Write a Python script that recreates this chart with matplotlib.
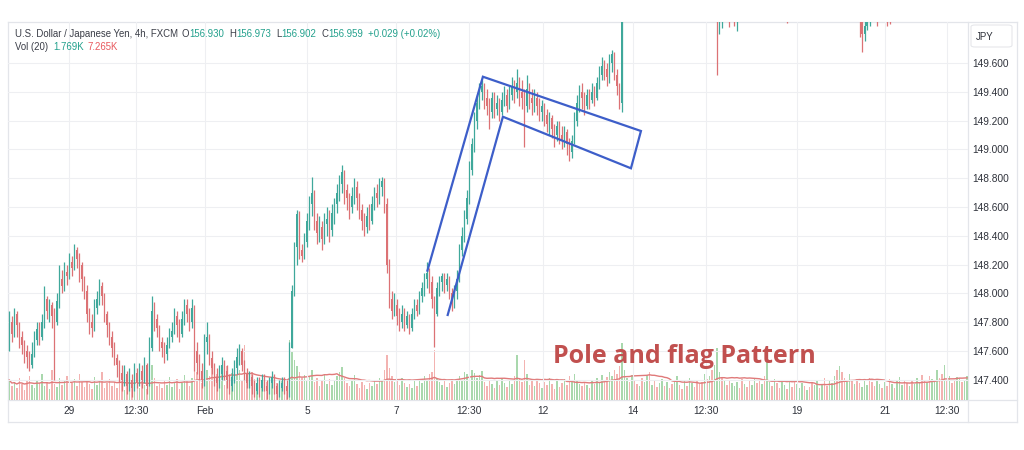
import numpy as np
import pandas as pd
import matplotlib
matplotlib.use("Agg")
import matplotlib.pyplot as plt
from matplotlib.lines import Line2D
from matplotlib.patches import FancyBboxPatch

plt.rcParams['font.family'] = ['Liberation Sans', 'DejaVu Sans']

# ---------------- data ----------------
first_open = 147.62
close = [
    147.80, 147.72, 147.86, 147.78, 147.70, 147.64, 147.60, 147.56, 147.50, 147.58,
    147.68, 147.75, 147.70, 147.80, 147.96, 147.88, 147.92, 147.84, 147.80, 147.95,
    148.10, 148.05, 148.15, 148.12, 148.22, 148.18, 148.30, 148.24, 148.20, 148.10,
    148.02, 147.86, 147.80, 147.76, 147.90, 147.96, 148.05, 147.98, 147.86, 147.78,
    147.70, 147.62, 147.55, 147.50, 147.45, 147.40, 147.44, 147.36, 147.40, 147.34,
    147.45, 147.38, 147.46, 147.40, 147.50, 147.36, 147.62, 147.88, 147.82, 147.76,
    147.66, 147.62, 147.58, 147.64, 147.70, 147.74, 147.84, 147.78, 147.72, 147.82,
    147.92, 147.86, 147.80, 147.90, 147.60, 147.52, 147.46, 147.40, 147.66, 147.70,
    147.55, 147.48, 147.42, 147.38, 147.44, 147.50, 147.46, 147.40, 147.36, 147.42,
    147.48, 147.56, 147.60, 147.50, 147.44, 147.38, 147.42, 147.36, 147.32, 147.38,
    147.34, 147.40, 147.36, 147.32, 147.38, 147.42, 147.36, 147.30, 147.34, 147.38,
    147.36, 147.32, 147.62, 148.02, 148.32, 148.55, 148.30, 148.26, 148.36, 148.50,
    148.62, 148.70, 148.50, 148.42, 148.46, 148.38, 148.48, 148.52, 148.44, 148.56,
    148.62, 148.70, 148.76, 148.84, 148.72, 148.66, 148.60, 148.68, 148.74, 148.66,
    148.58, 148.50, 148.46, 148.54, 148.50, 148.62, 148.70, 148.66, 148.74, 148.78,
    148.62, 148.20, 147.96, 147.88, 147.92, 147.84, 147.80, 147.86, 147.78, 147.84,
    147.76, 147.86, 147.92, 147.88, 147.98, 148.04, 148.10, 148.14, 148.08, 147.96,
    147.86, 148.04, 148.08, 148.12, 148.06, 148.10, 148.00, 147.94, 148.02, 148.10,
    148.30, 148.40, 148.52, 148.66, 148.86, 149.04, 149.20, 149.32, 149.40, 149.44,
    149.36, 149.30, 149.26, 149.36, 149.28, 149.32, 149.26, 149.34, 149.38, 149.30,
    149.38, 149.44, 149.40, 149.46, 149.40, 149.36, 149.30, 149.42, 149.36, 149.32,
    149.36, 149.30, 149.26, 149.30, 149.24, 149.18, 149.22, 149.14, 149.10, 149.16,
    149.10, 149.06, 149.12, 149.04, 148.98, 149.06, 149.20, 149.32, 149.40, 149.36,
    149.30, 149.38, 149.34, 149.40, 149.36, 149.46, 149.52, 149.58, 149.56, 149.50,
    149.60, 149.66, 149.52, 149.44, 149.32, 150.10,
]
high = [
    147.88, 147.84, 147.90, 147.88, 147.80, 147.74, 147.68, 147.64, 147.60, 147.66,
    147.74, 147.80, 147.80, 147.86, 148.05, 147.98, 147.96, 147.94, 147.90, 148.00,
    148.20, 148.16, 148.22, 148.20, 148.28, 148.26, 148.34, 148.32, 148.28, 148.22,
    148.12, 148.06, 147.90, 147.86, 147.96, 148.02, 148.10, 148.08, 148.00, 147.88,
    147.80, 147.74, 147.66, 147.58, 147.54, 147.50, 147.50, 147.46, 147.48, 147.44,
    147.52, 147.48, 147.52, 147.50, 147.56, 147.52, 147.70, 147.98, 147.94, 147.86,
    147.78, 147.70, 147.66, 147.70, 147.76, 147.80, 147.90, 147.88, 147.82, 147.88,
    147.96, 147.96, 147.90, 147.96, 147.92, 147.66, 147.58, 147.52, 147.72, 147.80,
    147.72, 147.60, 147.52, 147.48, 147.50, 147.56, 147.54, 147.50, 147.44, 147.48,
    147.54, 147.62, 147.65, 147.62, 147.54, 147.48, 147.46, 147.44, 147.40, 147.42,
    147.42, 147.44, 147.44, 147.40, 147.42, 147.46, 147.44, 147.38, 147.40, 147.42,
    147.42, 147.40, 147.66, 148.06, 148.36, 148.58, 148.57, 148.34, 148.42, 148.56,
    148.68, 148.81, 148.72, 148.56, 148.54, 148.50, 148.56, 148.60, 148.58, 148.62,
    148.66, 148.76, 148.82, 148.89, 148.86, 148.76, 148.70, 148.74, 148.80, 148.78,
    148.70, 148.62, 148.56, 148.60, 148.62, 148.68, 148.74, 148.76, 148.80, 148.81,
    148.80, 148.66, 148.24, 148.02, 148.00, 147.96, 147.90, 147.92, 147.90, 147.88,
    147.86, 147.90, 147.96, 147.96, 148.02, 148.08, 148.14, 148.22, 148.18, 148.12,
    147.98, 148.08, 148.12, 148.14, 148.14, 148.14, 148.12, 148.04, 148.06, 148.16,
    148.34, 148.46, 148.58, 148.72, 148.92, 149.08, 149.26, 149.38, 149.46, 149.48,
    149.46, 149.42, 149.36, 149.40, 149.40, 149.38, 149.36, 149.40, 149.44, 149.42,
    149.44, 149.50, 149.48, 149.56, 149.50, 149.48, 149.42, 149.52, 149.46, 149.42,
    149.42, 149.40, 149.36, 149.34, 149.32, 149.28, 149.26, 149.24, 149.18, 149.20,
    149.20, 149.16, 149.16, 149.14, 149.08, 149.10, 149.26, 149.38, 149.45, 149.46,
    149.40, 149.42, 149.42, 149.46, 149.44, 149.50, 149.58, 149.64, 149.62, 149.60,
    149.66, 149.69, 149.68, 149.56, 149.46, 150.40,
]
low = [
    147.60, 147.66, 147.70, 147.70, 147.62, 147.58, 147.52, 147.48, 147.46, 147.48,
    147.56, 147.64, 147.64, 147.68, 147.76, 147.82, 147.80, 147.76, 147.40, 147.78,
    147.90, 148.00, 148.02, 148.06, 148.10, 148.12, 148.16, 148.18, 148.08, 148.02,
    147.96, 147.80, 147.72, 147.70, 147.74, 147.86, 147.92, 147.92, 147.80, 147.70,
    147.64, 147.56, 147.50, 147.42, 147.38, 147.32, 147.36, 147.30, 147.32, 147.28,
    147.32, 147.34, 147.36, 147.34, 147.38, 147.30, 147.36, 147.60, 147.74, 147.70,
    147.60, 147.56, 147.52, 147.54, 147.62, 147.66, 147.72, 147.70, 147.66, 147.70,
    147.78, 147.80, 147.74, 147.76, 147.46, 147.44, 147.40, 147.34, 147.36, 147.58,
    147.50, 147.44, 147.36, 147.32, 147.34, 147.40, 147.40, 147.34, 147.30, 147.32,
    147.38, 147.44, 147.50, 147.46, 147.40, 147.34, 147.34, 147.30, 147.28, 147.30,
    147.28, 147.32, 147.32, 147.27, 147.30, 147.34, 147.30, 147.26, 147.28, 147.32,
    147.30, 147.27, 147.28, 147.62, 147.98, 148.20, 148.24, 148.22, 148.24, 148.32,
    148.44, 148.54, 148.44, 148.34, 148.36, 148.30, 148.34, 148.40, 148.36, 148.40,
    148.48, 148.56, 148.64, 148.70, 148.62, 148.58, 148.52, 148.56, 148.62, 148.58,
    148.52, 148.44, 148.40, 148.42, 148.44, 148.48, 148.58, 148.60, 148.62, 148.68,
    148.56, 148.14, 147.90, 147.82, 147.84, 147.78, 147.74, 147.76, 147.74, 147.76,
    147.72, 147.74, 147.82, 147.84, 147.86, 147.94, 147.98, 148.04, 148.00, 147.90,
    147.63, 147.84, 147.98, 148.02, 148.00, 148.02, 147.96, 147.88, 147.90, 147.96,
    148.08, 148.26, 148.36, 148.48, 148.62, 148.82, 148.98, 149.14, 149.28, 149.34,
    149.28, 149.24, 149.14, 149.22, 149.22, 149.24, 149.20, 149.24, 149.30, 149.26,
    149.28, 149.34, 149.32, 149.36, 149.30, 149.28, 149.02, 149.26, 149.28, 149.24,
    149.26, 149.24, 149.20, 149.20, 149.16, 149.12, 149.10, 149.08, 149.02, 149.06,
    149.04, 149.00, 149.02, 148.96, 148.92, 148.94, 149.04, 149.16, 149.26, 149.28,
    149.24, 149.28, 149.28, 149.32, 149.30, 149.34, 149.42, 149.48, 149.48, 149.44,
    149.46, 149.54, 149.48, 149.38, 149.28, 149.26,
]

# later bars trading above the visible price range (only their lower wicks show)
late_idx = [283, 284, 285, 288, 290, 291, 311, 340, 341, 342, 343, 344, 347, 351, 352]
late_open = [150.10, 149.84, 149.90, 150.00, 150.00, 149.90, 150.00, 149.95,
             149.90, 149.80, 149.86, 149.92, 150.00, 150.00, 150.00]
late_close = [149.95, 150.05, 150.05, 149.95, 149.92, 150.02, 149.95, 149.90,
              149.80, 149.86, 149.92, 150.02, 149.95, 149.95, 149.96]
late_high = [150.30, 150.20, 150.20, 150.10, 150.10, 150.10, 150.05, 150.10,
             150.05, 150.00, 150.05, 150.10, 150.10, 150.10, 150.10]
late_low = [149.52, 149.80, 149.84, 149.85, 149.86, 149.82, 149.88, 149.78,
            149.68, 149.75, 149.83, 149.86, 149.86, 149.86, 149.87]

volume = [
    20, 14, 18, 12, 22, 16, 10, 19, 24, 15,
    12, 20, 17, 26, 14, 18, 11, 30, 16, 13,
    22, 15, 19, 24, 12, 17, 21, 14, 26, 18,
    13, 20, 16, 11, 23, 15, 19, 28, 12, 17,
    21, 14, 18, 12, 16, 22, 10, 15, 19, 13,
    17, 24, 12, 20, 15, 11, 18, 35, 22, 14,
    16, 12, 20, 15, 23, 13, 18, 21, 11, 17,
    25, 19, 14, 22, 38, 28, 20, 17, 42, 30,
    24, 32, 18, 26, 21, 29, 15, 34, 22, 27,
    19, 25, 30, 20, 55, 23, 17, 28, 21, 16,
    14, 20, 12, 18, 15, 22, 11, 17, 13, 19,
    15, 12, 60, 48, 40, 34, 28, 22, 25, 19,
    24, 30, 18, 22, 14, 20, 26, 16, 21, 15,
    19, 24, 28, 33, 22, 17, 14, 20, 25, 16,
    12, 18, 15, 11, 17, 14, 20, 16, 22, 19,
    30, 45, 32, 24, 18, 20, 15, 22, 17, 13,
    16, 12, 19, 14, 21, 17, 24, 20, 26, 28,
    50, 22, 18, 15, 20, 13, 17, 21, 16, 19,
    24, 20, 28, 26, 32, 30, 27, 22, 25, 29,
    18, 14, 20, 16, 12, 19, 15, 22, 17, 13,
    20, 16, 24, 45, 22, 18, 40, 26, 15, 19,
    14, 20, 17, 12, 18, 15, 22, 16, 11, 19,
    13, 17, 21, 15, 24, 18, 26, 20, 16, 14,
    18, 15, 12, 19, 16, 22, 17, 25, 20, 23,
    28, 24, 30, 26, 34, 57, 30, 22, 18, 25,
    20, 16, 14, 22, 18, 25, 28, 15, 19, 13,
    17, 21, 14, 18, 12, 16, 20, 24, 15, 11,
    19, 14, 22, 17, 13, 20, 16, 18, 26, 21,
    24, 30, 35, 52, 28, 22, 19, 15, 20, 17,
    14, 18, 12, 21, 16, 13, 19, 15, 22, 17,
    20, 16, 24, 45, 18, 14, 21, 17, 12, 19,
    15, 11, 18, 13, 20, 16, 12, 17, 14, 10,
    13, 18, 15, 20, 12, 16, 22, 14, 19, 17,
    24, 30, 34, 28, 22, 18, 26, 20, 16, 21,
    17, 13, 19, 15, 22, 18, 14, 20, 16, 12,
    18, 14, 21, 16, 12, 19, 23, 15, 20, 17,
    14, 19, 16, 22, 18, 25, 20, 17, 24, 21,
    18, 30, 22, 26, 35, 20, 24, 17, 19, 23,
    22, 18, 20, 24,
]
late_vol_dir = "".join([
    "ggrgrrgrgg", "rgrrggrgrr", "ggrrgrggrr", "rrgrgrgggr", "grrgggrrgr",
    "rggrrgrggr", "grrggrgrrg", "ggrgrrggrg", "rrgggrgrrg", "grgrrgggrr",
    "rggrgrrgrg", "ggrrgrgggr", "rgrgggrrgr", "grrggrgg",
])

price_ticks = [147.4, 147.6, 147.8, 148.0, 148.2, 148.4, 148.6, 148.8, 149.0, 149.2, 149.4, 149.6]
time_tick_pos = [23.9, 50.7, 78.3, 119.1, 154.7, 183.9, 213.5, 249.5, 278.7, 315.1, 350.3, 374.8]
time_tick_lbl = ["29", "12:30", "Feb", "5", "7", "12:30", "12", "14", "12:30", "19", "21", "12:30"]

# drawn pattern anchors (bar index, price) - open at the pole's base
pole_flag_pts = [(167.1, 148.151), (189.4, 149.505), (252.6, 149.128),
                 (248.6, 148.869), (197.4, 149.227), (175.2, 147.843)]

n_slots = len(volume)

# ---------------- figure ----------------
W, H = 1024, 450
fig = plt.figure(figsize=(W / 100, H / 100), dpi=100, facecolor='white')

def fx(px):
    return px / W

def fy(py):
    return 1 - py / H

plot_l, plot_r, plot_t, plot_b = 8, 968.3, 21.7, 400
ax = fig.add_axes([fx(plot_l), fy(plot_b), (plot_r - plot_l) / W, (plot_b - plot_t) / H])
axv = ax.twinx()
ax.set_zorder(3)
axv.set_zorder(2)
ax.patch.set_visible(False)
axv.patch.set_visible(False)

GREEN = '#3fa89b'
RED = '#dc7275'
VGREEN = '#a9d8ad'
VRED = '#f3b3b1'

c = np.array(close)
h = np.array(high)
l = np.array(low)
o = np.concatenate([[first_open], c[:-1]])
idx = np.arange(len(c))
up = c >= o
cols = np.where(up, GREEN, RED)

ax.vlines(idx, l, h, colors=cols, linewidth=0.9, zorder=3)
body = np.maximum(np.abs(c - o), 0.008)
ax.bar(idx, body, bottom=np.minimum(o, c), width=0.6, color=cols, linewidth=0, zorder=4)

lo = np.array(late_open)
lc = np.array(late_close)
lcols = np.where(lc >= lo, GREEN, RED)
ax.vlines(late_idx, late_low, late_high, colors=lcols, linewidth=0.9, zorder=3)
ax.bar(late_idx, np.maximum(np.abs(lc - lo), 0.008), bottom=np.minimum(lo, lc), width=0.6,
       color=lcols, linewidth=0, zorder=4)

# volume
vdir = list(np.where(up, 'g', 'r')) + list(late_vol_dir)
vcols = [VGREEN if d == 'g' else VRED for d in vdir[:n_slots]]
axv.bar(np.arange(n_slots), volume, width=0.6, color=vcols, linewidth=0)
ma = pd.Series(volume, dtype=float).rolling(20, min_periods=1).mean()
axv.plot(np.arange(n_slots), ma, color='#e07a7a', linewidth=1.0)
axv.set_ylim(0, plot_b - plot_t)
axv.set_yticks([])
for s in axv.spines.values():
    s.set_visible(False)

# pole & flag drawing
px_, py_ = zip(*pole_flag_pts)
ax.plot(px_, py_, color='#3d5ec9', linewidth=1.6, solid_joinstyle='miter',
        solid_capstyle='butt', zorder=6)

ax.set_xlim(-0.5, n_slots - 0.5)
ax.set_ylim(147.260, 149.887)
ax.yaxis.tick_right()
ax.set_yticks(price_ticks)
ax.set_yticklabels([f"{p:.3f}" for p in price_ticks])
ax.set_xticks(time_tick_pos)
ax.set_xticklabels(time_tick_lbl)
ax.tick_params(axis='y', length=0, pad=3.0, labelsize=7.3, labelcolor='#2f323b')
ax.tick_params(axis='x', length=0, pad=4.0, labelsize=7.3, labelcolor='#2f323b')
ax.grid(True, color='#eeeff2', linewidth=0.8)
ax.set_axisbelow(True)
for s in ax.spines.values():
    s.set_visible(False)

# frame lines
FR = '#e3e5ea'
def fline(x0, y0, x1, y1):
    fig.add_artist(Line2D([fx(x0), fx(x1)], [fy(y0), fy(y1)], color=FR, linewidth=0.9,
                          transform=fig.transFigure))
fline(8, 21.7, 1016.7, 21.7)
fline(8, 421.7, 1016.7, 421.7)
fline(8, 21.7, 8, 421.7)
fline(1016.7, 21.7, 1016.7, 421.7)
fline(968.3, 21.7, 968.3, 421.7)
fline(8, 400, 1016.7, 400)

# JPY box
fig.add_artist(FancyBboxPatch((fx(971), fy(47)), (1012 - 971) / W, (47 - 25) / H,
                              boxstyle="round,pad=0,rounding_size=0.004",
                              transform=fig.transFigure, facecolor='white',
                              edgecolor='#e6e7eb', linewidth=0.8))
fig.text(fx(976), fy(36.5), "JPY", fontsize=7.0, color='#2f323b', va='center', ha='left')

# header text
fig.canvas.draw()
renderer = fig.canvas.get_renderer()

def chain(pieces, x0, yc, size):
    x = x0
    for txt, col, gap in pieces:
        t = fig.text(fx(x), fy(yc), txt, fontsize=size, color=col, va='center', ha='left')
        bb = t.get_window_extent(renderer)
        x = x + bb.width + gap

DARK = '#3a3d47'
TG = '#22a08c'
TR = '#e8575c'
chain([("U.S. Dollar / Japanese Yen, 4h, FXCM", DARK, 4),
       ("O", DARK, 0), ("156.930", TG, 5),
       ("H", DARK, 0), ("156.973", TG, 5),
       ("L", DARK, 0), ("156.902", TG, 5),
       ("C", DARK, 0), ("156.959", TG, 5),
       ("+0.029 (+0.02%)", TG, 0)], 15, 34, 6.9)
chain([("Vol (20)", DARK, 5), ("1.769K", TG, 4), ("7.265K", TR, 0)], 15, 46.5, 6.9)

# pattern label
fig.text(fx(553), fy(363), "Pole and flag Pattern", fontsize=18, fontweight='bold',
         family=['Open Sans', 'DejaVu Sans'], color='#c1504f', va='baseline', ha='left',
         zorder=10)

fig.savefig("out.png", dpi=100, facecolor='white')
